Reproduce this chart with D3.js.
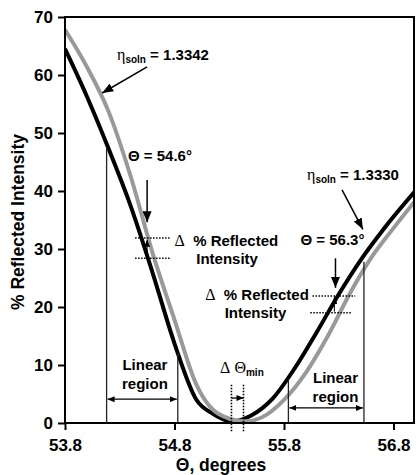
<!DOCTYPE html>
<html>
<head>
<meta charset="utf-8">
<script src="https://cdn.jsdelivr.net/npm/d3@7"></script>
<style>
  body { margin: 0; background: #fff; }
  text { font-family: "Liberation Sans", Arial, sans-serif; font-weight: bold; fill: #000; }
  .greek { font-family: "Liberation Serif", "Times New Roman", serif; font-weight: normal; }
</style>
</head>
<body>
<svg id="chart" width="416" height="475"></svg>
<script>
// curve for n = 1.3330 (black)
const thetaBlack = [53.8, 54.0, 54.2, 54.4, 54.6, 54.8, 55.0, 55.15, 55.33, 55.5, 55.7, 55.9, 56.1, 56.3, 56.5, 56.7, 56.99];
const intBlack   = [64.5, 56.3, 47.2, 37.4, 25.9, 13.7, 4.0, 1.6, 0.3, 1.3, 4.3, 9.5, 15.7, 22.2, 28.1, 33.2, 39.8];
// curve for n = 1.3342 (gray)
const thetaGray = [53.8, 54.0, 54.2, 54.4, 54.6, 54.8, 55.0, 55.2, 55.44, 55.6, 55.8, 56.0, 56.2, 56.4, 56.6, 56.8, 56.99];
const intGray   = [67.8, 61.4, 53.6, 42.5, 29.3, 17.8, 6.6, 1.6, 0.3, 1.0, 4.0, 8.7, 15.0, 22.3, 28.6, 33.6, 38.1];

const xTicks = [53.8, 54.8, 55.8, 56.8];
const yTicks = [0, 10, 20, 30, 40, 50, 60, 70];

// linear region limits: [theta, top of the line]
const linearLeft  = [[54.18, 47.6], [54.83, 12.1]];
const linearRight = [[55.84, 7.7], [56.53, 27.8]];
const thetaMin = [55.32, 55.43];

const svg = d3.select('#chart');
const x = d3.scaleLinear().domain([53.8, 56.987]).range([65, 414]);
const y = d3.scaleLinear().domain([0, 70]).range([423, 17]);

// arrow heads
const defs = svg.append('defs');
function marker(id, len, wid) {
    defs.append('marker')
        .attr('id', id)
        .attr('viewBox', `0 0 ${len} ${wid}`)
        .attr('refX', len).attr('refY', wid / 2)
        .attr('markerWidth', len).attr('markerHeight', wid)
        .attr('markerUnits', 'userSpaceOnUse')
        .attr('orient', 'auto-start-reverse')
        .append('path')
        .attr('d', `M0,0L${len},${wid / 2}L0,${wid}Z`)
        .attr('fill', '#000');
}
marker('big', 11, 9);
marker('small', 7, 6);

defs.append('clipPath').attr('id', 'plot')
    .append('rect').attr('x', 65).attr('y', 17).attr('width', 349).attr('height', 406);

// curves
const line = d3.line().x(d => x(d[0])).y(d => y(d[1])).curve(d3.curveMonotoneX);
const curves = svg.append('g').attr('clip-path', 'url(#plot)');
curves.append('path')
    .datum(d3.zip(thetaBlack, intBlack))
    .attr('d', line).attr('fill', 'none').attr('stroke', '#000').attr('stroke-width', 4);
curves.append('path')
    .datum(d3.zip(thetaGray, intGray))
    .attr('d', line).attr('fill', 'none').attr('stroke', '#999').attr('stroke-width', 4);

// frame and axes
svg.append('rect').attr('x', 65).attr('y', 17).attr('width', 349).attr('height', 406)
    .attr('fill', 'none').attr('stroke', '#000').attr('stroke-width', 2);

const yAxis = svg.append('g').attr('transform', 'translate(65,0)')
    .call(d3.axisLeft(y).tickValues(yTicks).tickSize(7).tickPadding(5));
const xAxis = svg.append('g').attr('transform', 'translate(0,423)')
    .call(d3.axisBottom(x).tickValues(xTicks).tickSize(7).tickPadding(9).tickFormat(d3.format('.1f')));
[yAxis, xAxis].forEach(a => {
    a.select('.domain').remove();
    a.selectAll('.tick line').attr('stroke', '#000').attr('stroke-width', 2);
    a.selectAll('.tick text').style('font-size', '17px').style('font-family', '"Liberation Sans", Arial, sans-serif').style('font-weight', 'bold');
});

svg.append('text')
    .attr('transform', `translate(24,${(y(0) + y(70)) / 2 + 2}) rotate(-90)`)
    .attr('text-anchor', 'middle').style('font-size', '17.5px')
    .text('% Reflected Intensity');
svg.append('text')
    .attr('x', 221).attr('y', 471)
    .attr('text-anchor', 'middle').style('font-size', '17.5px')
    .text('Θ, degrees');

// annotations
const ann = svg.append('g');
function arrow(x1, y1, x2, y2, head, w) {
    ann.append('line')
        .attr('x1', x(x1)).attr('y1', y(y1)).attr('x2', x(x2)).attr('y2', y(y2))
        .attr('stroke', '#000').attr('stroke-width', w || 1.5)
        .attr('marker-end', `url(#${head})`);
}
function dotted(x1, y1, x2, y2) {
    ann.append('line')
        .attr('x1', x(x1)).attr('y1', y(y1)).attr('x2', x(x2)).attr('y2', y(y2))
        .attr('stroke', '#000').attr('stroke-width', 1.6).attr('stroke-dasharray', '1.5,1.5');
}
function label(tx, ty, parts, anchor) {
    const t = ann.append('text').attr('x', x(tx)).attr('y', y(ty))
        .attr('text-anchor', anchor || 'start').style('font-size', '15px');
    parts.forEach(p => {
        const s = t.append('tspan').text(p.t);
        if (p.greek) s.attr('class', 'greek').style('font-size', '16px');
        if (p.sub) s.style('font-size', '10px').attr('dy', 3);
        if (p.up) s.attr('dy', -3);
    });
    return t;
}

// n = 1.3342
label(54.275, 62.6, [{ t: 'η', greek: true }, { t: 'soln', sub: true }, { t: ' = 1.3342', up: true }]);
arrow(54.55, 61.4, 54.14, 56.9, 'big');

// theta = 54.6
label(54.375, 45.2, [{ t: 'Θ = 54.6°' }]);
arrow(54.55, 41.9, 54.55, 34.6, 'big');
dotted(54.44, 31.9, 54.76, 31.9);
dotted(54.44, 28.4, 54.76, 28.4);
arrow(54.55, 28.6, 54.55, 31.6, 'small', 1);
label(54.80, 30.5, [{ t: 'Δ', greek: true }, { t: '  % Reflected' }]).attr('xml:space', 'preserve');
label(55.28, 27.4, [{ t: 'Intensity' }], 'middle');

// n = 1.3330
label(56.01, 41.9, [{ t: 'η', greek: true }, { t: 'soln', sub: true }, { t: ' = 1.3330', up: true }]);
arrow(56.33, 40.2, 56.52, 33.4, 'big');

// theta = 56.3
label(55.95, 30.7, [{ t: 'Θ = 56.3°' }]);
arrow(56.27, 28.4, 56.27, 23.3, 'big');
dotted(56.06, 21.9, 56.45, 21.9);
dotted(56.04, 19.0, 56.42, 19.0);
arrow(56.26, 19.2, 56.26, 21.7, 'small', 1);
label(55.08, 21.2, [{ t: 'Δ', greek: true }, { t: '  % Reflected' }]).attr('xml:space', 'preserve');
label(55.54, 18.1, [{ t: 'Intensity' }], 'middle');

// linear regions
function linear(lines, ay, cx, ly1, ly2) {
    lines.forEach(l => {
        ann.append('line').attr('x1', x(l[0])).attr('x2', x(l[0]))
            .attr('y1', y(0)).attr('y2', y(l[1]))
            .attr('stroke', '#222').attr('stroke-width', 1.3);
    });
    ann.append('line')
        .attr('x1', x(lines[0][0]) + 1).attr('x2', x(lines[1][0]) - 1)
        .attr('y1', y(ay)).attr('y2', y(ay))
        .attr('stroke', '#000').attr('stroke-width', 1.3)
        .attr('marker-start', 'url(#small)').attr('marker-end', 'url(#small)');
    label(cx, ly1, [{ t: 'Linear' }], 'middle');
    label(cx, ly2, [{ t: 'region' }], 'middle');
}
linear(linearLeft, 4.1, 54.53, 9.1, 5.9);
linear(linearRight, 2.6, 56.27, 6.9, 3.6);

// delta theta min
thetaMin.forEach(t => dotted(t, 6.6, t, -1.7));
arrow(thetaMin[0], 4.3, thetaMin[1], 4.3, 'small', 1.3);
label(55.215, 8.6, [{ t: 'Δ', greek: true }, { t: ' ' }, { t: 'Θ', greek: true }, { t: 'min', sub: true }]);
</script>
</body>
</html>
